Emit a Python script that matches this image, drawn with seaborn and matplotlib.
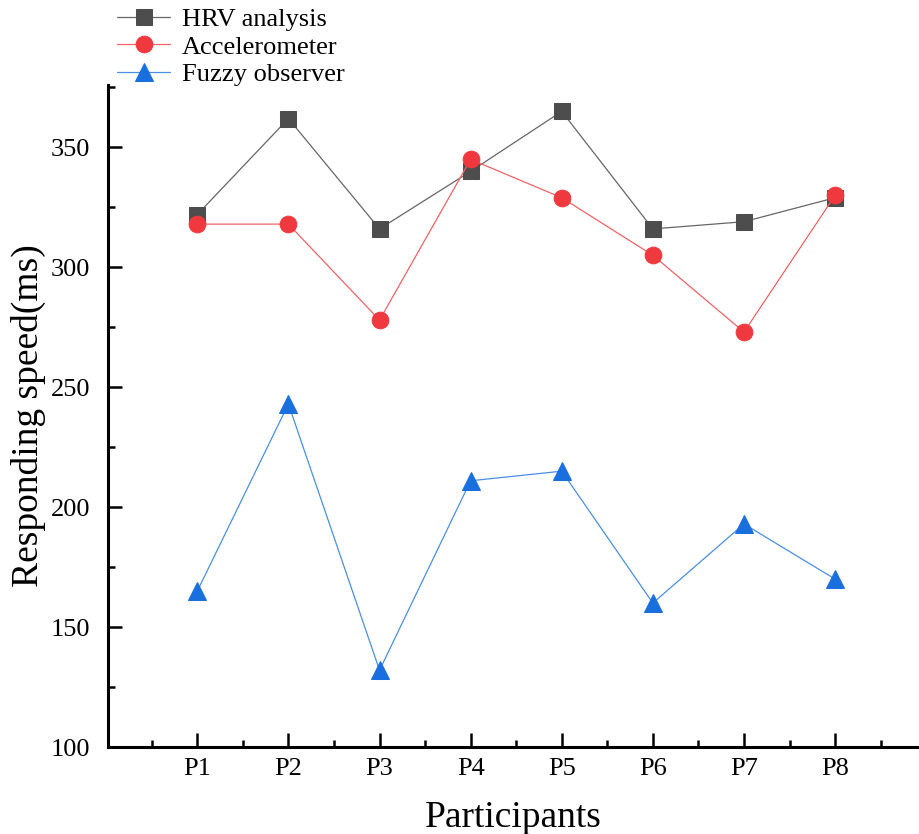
import pandas as pd
import numpy as np
import matplotlib.pyplot as plt
import seaborn as sns
from matplotlib.ticker import MultipleLocator, FixedLocator

# Data
participants = ['P1', 'P2', 'P3', 'P4', 'P5', 'P6', 'P7', 'P8']
hrv = [322, 362, 316, 340, 365, 316, 319, 329]
accel = [318, 318, 278, 345, 329, 305, 273, 330]
fuzzy = [165, 243, 132, 211, 215, 160, 193, 170]

series_names = ['HRV analysis', 'Accelerometer', 'Fuzzy observer']
colors = ['#4d4d4d', '#f0393e', '#1a6fdf']
line_colors = ['#666666', '#f26266', '#4a8fe6']
markers = ['s', 'o', '^']
msizes = [11, 12, 13]

sns.set_style('white')
plt.rcParams['font.family'] = ['Liberation Serif', 'DejaVu Serif']
plt.rcParams['text.color'] = 'black'
plt.rcParams['axes.labelcolor'] = 'black'

fig = plt.figure(figsize=(9.2, 8.34), dpi=100)
ax = fig.add_axes([108 / 920, 87 / 834, 810 / 920, 662 / 834])

for name, vals, c, lc, m, ms in zip(series_names, [hrv, accel, fuzzy], colors, line_colors, markers, msizes):
    df = pd.DataFrame({'Participants': participants, 'speed': vals})
    sns.lineplot(data=df, x='Participants', y='speed', ax=ax, color=lc, linewidth=0.9,
                 marker=m, markersize=ms, markerfacecolor=c, markeredgecolor=c,
                 label=name, legend=False)

ax.set_xlim(-0.98, 7.91)
ax.set_ylim(100, 376)

ax.yaxis.set_major_locator(MultipleLocator(50))
ax.yaxis.set_minor_locator(MultipleLocator(25))
ax.xaxis.set_major_locator(FixedLocator(range(8)))
ax.xaxis.set_minor_locator(FixedLocator(np.arange(-0.5, 8, 1.0)))
ax.set_xticklabels(participants)

for side in ['top', 'right']:
    ax.spines[side].set_visible(False)
for side in ['left', 'bottom']:
    ax.spines[side].set_linewidth(2.2)
    ax.spines[side].set_color('black')

ax.tick_params(which='both', bottom=True, left=True, top=False, right=False)
ax.tick_params(which='major', direction='in', length=10, width=1.8, labelsize=19, colors='black')
ax.tick_params(which='minor', direction='in', length=5, width=1.8, colors='black')
ax.tick_params(axis='y', which='major', pad=13)
ax.tick_params(axis='x', which='major', pad=8)

ax.set_xlabel('Participants', fontsize=27, labelpad=15, color='black')
ax.set_ylabel('Responding speed(ms)', fontsize=27, labelpad=3, color='black')

handles, labels = ax.get_legend_handles_labels()
fig.legend(handles, labels, loc='upper left', bbox_to_anchor=(112 / 920, 0.997),
           frameon=False, fontsize=19, handlelength=2.0, handletextpad=0.45,
           labelspacing=0.15, borderpad=0.1, borderaxespad=0.1, labelcolor='black')

fig.savefig('out.png', dpi=100, facecolor='white')
